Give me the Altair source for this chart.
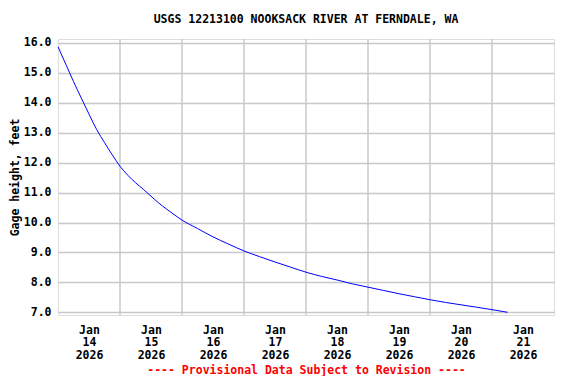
import altair as alt
import pandas as pd

# Gage height readings (6-hourly samples)
times = [
    "2026-01-14T00:00", "2026-01-14T03:00", "2026-01-14T06:00", "2026-01-14T09:00",
    "2026-01-14T12:00", "2026-01-14T15:00", "2026-01-14T18:00", "2026-01-14T21:00",
    "2026-01-15T00:00", "2026-01-15T03:00", "2026-01-15T06:00", "2026-01-15T09:00",
    "2026-01-15T12:00", "2026-01-15T15:00", "2026-01-15T18:00", "2026-01-15T21:00",
    "2026-01-16T00:00", "2026-01-16T06:00", "2026-01-16T12:00", "2026-01-16T18:00",
    "2026-01-17T00:00", "2026-01-17T06:00", "2026-01-17T12:00", "2026-01-17T18:00",
    "2026-01-18T00:00", "2026-01-18T06:00", "2026-01-18T12:00", "2026-01-18T18:00",
    "2026-01-19T00:00", "2026-01-19T06:00", "2026-01-19T12:00", "2026-01-19T18:00",
    "2026-01-20T00:00", "2026-01-20T06:00", "2026-01-20T12:00", "2026-01-20T18:00",
    "2026-01-21T00:00", "2026-01-21T06:00",
]
gage_ft = [
    15.87, 15.29, 14.71, 14.16,
    13.62, 13.10, 12.67, 12.26,
    11.88, 11.58, 11.33, 11.11,
    10.88, 10.65, 10.45, 10.26,
    10.08, 9.80, 9.52, 9.28,
    9.05, 8.86, 8.68, 8.51,
    8.34, 8.20, 8.08, 7.95,
    7.84, 7.73, 7.62, 7.52,
    7.42, 7.33, 7.25, 7.17,
    7.09, 7.00,
]
label_days = ["2026-01-14T12:00", "2026-01-15T12:00", "2026-01-16T12:00", "2026-01-17T12:00",
              "2026-01-18T12:00", "2026-01-19T12:00", "2026-01-20T12:00", "2026-01-21T12:00"]
grid_days = ["2026-01-15T00:00", "2026-01-16T00:00", "2026-01-17T00:00", "2026-01-18T00:00",
             "2026-01-19T00:00", "2026-01-20T00:00", "2026-01-21T00:00"]
x_domain = ["2026-01-14T00:00", "2026-01-22T00:00"]
y_ticks = [7, 8, 9, 10, 11, 12, 13, 14, 15, 16]
y_domain = [6.91, 16.13]


def ms(s):
    return int(pd.Timestamp(s, tz="UTC").value // 10**6)


df = pd.DataFrame({"t": [ms(s) for s in times], "v": gage_ft})
grid_df = pd.DataFrame({"t": [ms(s) for s in grid_days]})

FONT = "DejaVu Sans Mono"
GRID = "#c8c8c8"

xscale = alt.Scale(type="utc", domain=[ms(s) for s in x_domain])
yscale = alt.Scale(domain=y_domain, nice=False, zero=False)

xaxis = alt.Axis(
    values=[ms(s) for s in label_days],
    labelExpr="[utcFormat(datum.value, '%b'), utcFormat(datum.value, '%d'), utcFormat(datum.value, '%Y')]",
    grid=False, ticks=False, domain=False,
    labelFont=FONT, labelFontWeight="bold", labelFontSize=11.5, labelColor="black",
    labelLineHeight=12.7, labelPadding=9, labelAngle=0, labelFlush=False,
    title="---- Provisional Data Subject to Revision ----",
    titleFont=FONT, titleFontWeight="bold", titleFontSize=11.5, titleColor="#ff0000",
    titlePadding=4,
)
yaxis = alt.Axis(
    values=y_ticks, format=".1f",
    grid=True, gridColor=GRID, gridWidth=1.5, ticks=False, domain=False,
    labelFont=FONT, labelFontWeight="bold", labelFontSize=11.5, labelColor="black",
    labelPadding=7,
    title="Gage height, feet",
    titleFont=FONT, titleFontWeight="bold", titleFontSize=11.5, titleColor="black",
    titlePadding=3,
)

grid = alt.Chart(grid_df).mark_rule(color=GRID, strokeWidth=1.5).encode(
    x=alt.X("t:T", scale=xscale, axis=xaxis)
)
line = alt.Chart(df).mark_line(color="#0000ff", strokeWidth=1, interpolate="monotone").encode(
    x=alt.X("t:T", scale=xscale, axis=xaxis),
    y=alt.Y("v:Q", scale=yscale, axis=yaxis),
)

chart = alt.layer(grid, line).properties(
    width=496, height=276,
    autosize=alt.AutoSizeParams(type="none"),
    padding={"left": 50, "top": 31, "right": 14, "bottom": 61},
    title=alt.TitleParams(
        "USGS 12213100 NOOKSACK RIVER AT FERNDALE, WA",
        font=FONT, fontWeight="bold", fontSize=11.5, color="black",
        anchor="middle", offset=11,
    ),
).configure_view(stroke="black", strokeWidth=1.5).configure(background="white")

chart.save("out.html", embed_options={"renderer": "svg", "actions": False})
